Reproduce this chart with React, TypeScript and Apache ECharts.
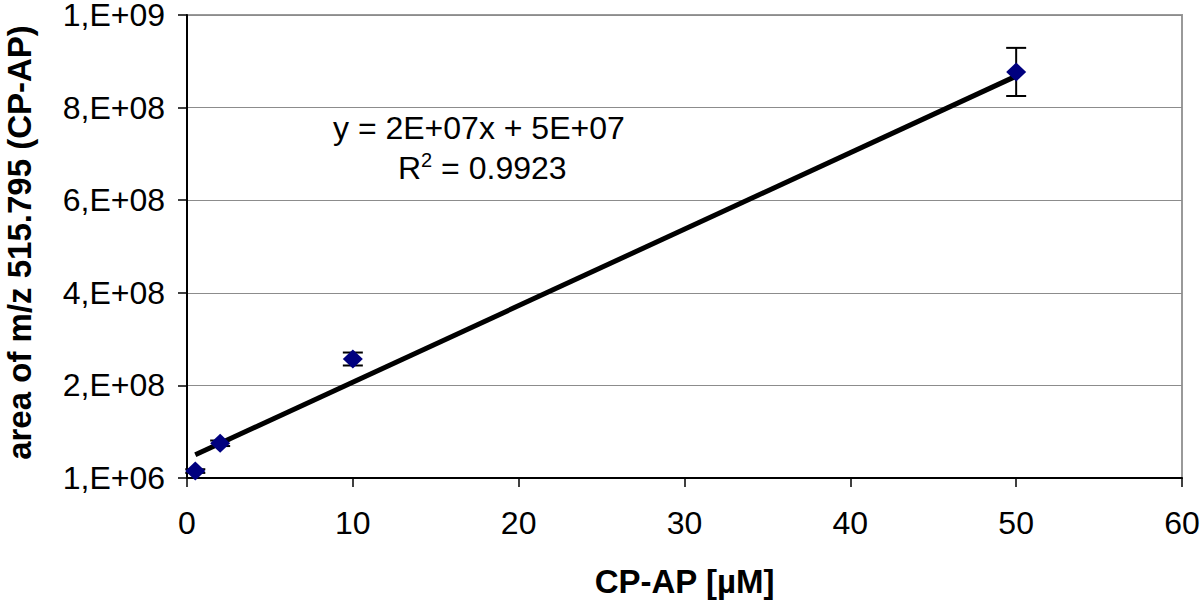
import React, { useEffect, useRef } from "react";
import * as echarts from "echarts";

const concentrations = [0.5, 2, 10, 50];
const areas = [1.5e7, 7.5e7, 2.57e8, 8.77e8];
const areaErrors = [0.4e7, 0.6e7, 1.4e7, 5.2e7];
const trendX = [0.5, 50];
const trendY = [5.0e7, 8.68e8];
const equationText = "y = 2E+07x + 5E+07";
const r2Value = "0.9923";
const xTitle = "CP-AP [µM]";
const yTitle = "area of m/z 515.795 (CP-AP)";

function fmtY(v: number): string {
  if (v === 0) return "1,E+06";
  const exp = Math.floor(Math.log10(v) + 1e-9);
  const mant = Math.round(v / Math.pow(10, exp));
  return `${mant},E+${String(exp).padStart(2, "0")}`;
}

export default function App() {
  const ref = useRef<HTMLDivElement>(null);
  useEffect(() => {
    if (!ref.current) return;
    const chart = echarts.init(ref.current, undefined, { renderer: "svg" });
    const font = "Arial, 'Liberation Sans', sans-serif";
    chart.setOption({
      animation: false,
      backgroundColor: "#fff",
      grid: {
        left: 187,
        right: 18,
        top: 15,
        bottom: 127,
        containLabel: false,
        outerBoundsMode: "none",
        show: true,
        borderColor: "#999",
        borderWidth: 2,
      },
      xAxis: {
        type: "value",
        min: 0,
        max: 60,
        interval: 10,
        name: xTitle,
        nameLocation: "middle",
        nameGap: 87,
        nameTextStyle: { fontFamily: font, fontSize: 33, fontWeight: "bold", color: "#000" },
        axisLine: { show: true, onZero: false, lineStyle: { color: "#000", width: 2 } },
        axisTick: { show: true, length: 9, lineStyle: { color: "#000", width: 1.5 } },
        axisLabel: { fontFamily: font, fontSize: 32, color: "#000", margin: 29 },
        splitLine: { show: false },
      },
      yAxis: {
        type: "value",
        min: 0,
        max: 1e9,
        interval: 2e8,
        name: yTitle,
        nameLocation: "middle",
        nameGap: 153,
        nameRotate: 90,
        nameTextStyle: {
          fontFamily: font,
          fontSize: 33,
          lineHeight: 30,
          fontWeight: "bold",
          color: "#000",
          padding: [0, 0, 0, 8],
        },
        axisLine: { show: true, lineStyle: { color: "#000", width: 2 } },
        axisTick: { show: true, length: 9, lineStyle: { color: "#000", width: 1.5 } },
        axisLabel: { fontFamily: font, fontSize: 32, lineHeight: 28, color: "#000", margin: 22, formatter: fmtY },
        splitLine: { show: true, lineStyle: { color: "#8c8c8c", width: 1 } },
      },
      graphic: [
        {
          type: "text",
          left: 333,
          top: 112,
          style: { text: equationText, fontFamily: font, fontSize: 32, fill: "#000" },
        },
        {
          type: "text",
          left: 398,
          top: 150,
          style: {
            text: `{n|R}{s|2}{n| = ${r2Value}}`,
            rich: {
              n: { fontFamily: font, fontSize: 32, fill: "#000", verticalAlign: "bottom" },
              s: { fontFamily: font, fontSize: 20, fill: "#000", verticalAlign: "top", padding: [0, 0, 14, 0] },
            },
          },
        },
      ],
      series: [
        {
          type: "line",
          data: trendX.map((x, i) => [x, trendY[i]]),
          symbol: "none",
          lineStyle: { color: "#000", width: 5 },
          z: 2,
        },
        {
          type: "custom",
          data: concentrations.map((x, i) => [x, areas[i], areaErrors[i]]),
          renderItem: (params: any, api: any) => {
            const x = api.value(0);
            const y = api.value(1);
            const e = api.value(2);
            const top = api.coord([x, y + e]);
            const bot = api.coord([x, y - e]);
            const h = 10;
            const st = { stroke: "#000", lineWidth: 2 };
            return {
              type: "group",
              children: [
                { type: "line", shape: { x1: top[0], y1: top[1], x2: bot[0], y2: bot[1] }, style: st },
                { type: "line", shape: { x1: top[0] - h, y1: top[1], x2: top[0] + h, y2: top[1] }, style: st },
                { type: "line", shape: { x1: bot[0] - h, y1: bot[1], x2: bot[0] + h, y2: bot[1] }, style: st },
              ],
            };
          },
          z: 3,
        },
        {
          type: "scatter",
          data: concentrations.map((x, i) => [x, areas[i]]),
          symbol: "diamond",
          symbolSize: [20, 19],
          itemStyle: { color: "#00007f", opacity: 1 },
          z: 4,
        },
      ],
    });
    return () => chart.dispose();
  }, []);
  return <div ref={ref} style={{ width: 1200, height: 605, position: "absolute", left: 0, top: 0 }} />;
}
